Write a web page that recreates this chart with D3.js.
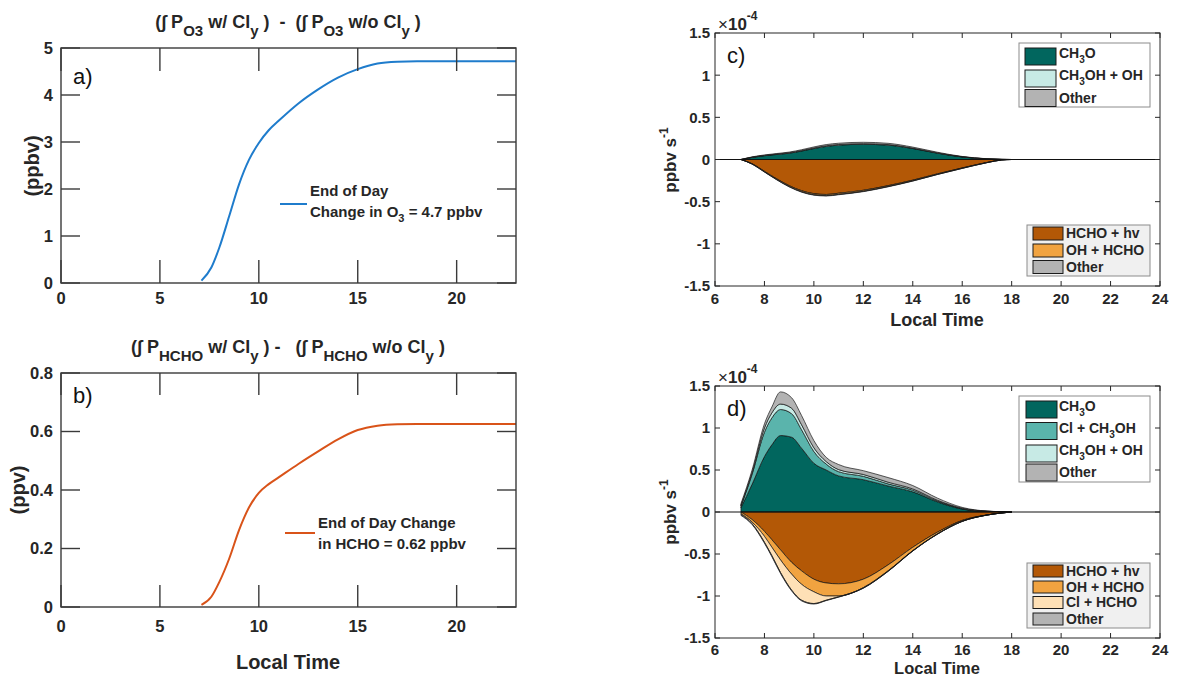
<!DOCTYPE html>
<html><head><meta charset="utf-8">
<script src="https://cdn.jsdelivr.net/npm/d3@7"></script>
<style>
body{margin:0;background:#fff;}
svg{display:block;}
text{white-space:pre;font-family:"Liberation Sans",Arial,Helvetica,sans-serif;}
</style></head><body>
<svg id="chart" width="1180" height="678"></svg>
<script>
// ---------------- DATA ----------------
const hoursAB = [7.1, 7.6, 8.0, 8.5, 9.0, 9.5, 10.0, 10.5, 11, 12, 13, 14, 15, 16, 17, 18, 20, 23];
const o3Change = [0.05, 0.33, 0.75, 1.42, 2.1, 2.62, 2.98, 3.25, 3.45, 3.82, 4.12, 4.37, 4.55, 4.67, 4.71, 4.72, 4.72, 4.72];
const hchoChange = [0.007, 0.035, 0.085, 0.165, 0.263, 0.34, 0.39, 0.42, 0.443, 0.489, 0.532, 0.573, 0.605, 0.62, 0.625, 0.626, 0.626, 0.626];
const xTicksAB = [0, 5, 10, 15, 20];
const yTicksA = [0, 1, 2, 3, 4, 5];
const yTicksB = [0, 0.2, 0.4, 0.6, 0.8];

// panel c (units of 1e-4 ppbv s-1)
const hoursC = [7.05, 7.5, 8, 8.5, 9, 9.5, 10, 10.5, 11, 12, 13, 14, 15, 16, 17, 17.6, 18];
const cCH3O     = [0, 0.025, 0.045, 0.06, 0.075, 0.10, 0.13, 0.155, 0.17, 0.18, 0.17, 0.13, 0.075, 0.03, 0.007, 0.001, 0];
const cCH3OH_OH = [0, 0.002, 0.003, 0.004, 0.005, 0.006, 0.007, 0.008, 0.008, 0.008, 0.007, 0.005, 0.003, 0.002, 0.001, 0.0005, 0];
const cOtherPos = [0, 0.004, 0.006, 0.007, 0.008, 0.01, 0.012, 0.014, 0.015, 0.016, 0.015, 0.012, 0.008, 0.004, 0.001, 0.0005, 0];
const cHCHO_hv  = [0, -0.05, -0.14, -0.23, -0.31, -0.37, -0.405, -0.415, -0.40, -0.365, -0.31, -0.245, -0.17, -0.10, -0.035, -0.005, 0];
const cOH_HCHO  = [0, -0.003, -0.006, -0.008, -0.01, -0.012, -0.013, -0.013, -0.013, -0.012, -0.01, -0.008, -0.006, -0.004, -0.002, -0.0005, 0];
const cOtherNeg = [0, -0.002, -0.003, -0.004, -0.005, -0.005, -0.005, -0.005, -0.005, -0.004, -0.004, -0.003, -0.002, -0.002, -0.001, -0.0005, 0];

// panel d (units of 1e-4 ppbv s-1)
const hoursD = [7.05, 7.5, 8.0, 8.3, 8.65, 9.1, 9.5, 10.0, 10.5, 11.0, 12.0, 13.0, 14.0, 15.0, 16.0, 17.0, 18.0];
const dCH3O     = [0.05, 0.33, 0.66, 0.80, 0.91, 0.89, 0.76, 0.58, 0.50, 0.43, 0.385, 0.31, 0.24, 0.12, 0.035, 0.006, 0];
const dCl_CH3OH = [0.02, 0.12, 0.29, 0.32, 0.31, 0.28, 0.22, 0.14, 0.07, 0.05, 0.04, 0.025, 0.02, 0.01, 0.005, 0.002, 0];
const dCH3OH_OH = [0.01, 0.02, 0.05, 0.06, 0.065, 0.065, 0.06, 0.045, 0.03, 0.025, 0.022, 0.02, 0.015, 0.01, 0.005, 0.001, 0];
const dOtherPos = [0.02, 0.03, 0.05, 0.07, 0.145, 0.125, 0.11, 0.085, 0.05, 0.06, 0.045, 0.055, 0.04, 0.025, 0.01, 0.002, 0];
const dHCHO_hv  = [-0.001, -0.09, -0.23, -0.33, -0.45, -0.60, -0.70, -0.80, -0.845, -0.855, -0.80, -0.63, -0.42, -0.24, -0.10, -0.035, 0];
const dOH_HCHO  = [-0.02, -0.03, -0.06, -0.09, -0.12, -0.14, -0.16, -0.15, -0.155, -0.145, -0.10, -0.07, -0.04, -0.02, -0.01, -0.001, 0];
const dCl_HCHO  = [-0.01, -0.02, -0.07, -0.10, -0.15, -0.19, -0.19, -0.14, -0.05, -0.01, -0.005, -0.005, -0.003, -0.002, -0.001, -0.0005, 0];
const dOtherNeg = [-0.01, -0.01, -0.012, -0.012, -0.012, -0.01, -0.008, -0.006, -0.005, -0.004, -0.003, -0.003, -0.002, -0.002, -0.001, -0.0005, 0];

const xTicksCD = [6, 8, 10, 12, 14, 16, 18, 20, 22, 24];
const yTicksCD = [-1.5, -1, -0.5, 0, 0.5, 1, 1.5];

// ---------------- STYLE ----------------
const INK = '#262626';
const FONT = '"Liberation Sans",Arial,Helvetica,sans-serif';
const COL = {
  CH3O: '#01665e', Cl_CH3OH: '#5ab4ac', CH3OH_OH: '#c7eae5', Other: '#b3b3b3',
  HCHO_hv: '#b35806', OH_HCHO: '#f1a340', Cl_HCHO: '#fee0b6'
};

const svg = d3.select('#chart');
svg.append('rect').attr('width', 1180).attr('height', 678).attr('fill', '#fff');

function txt(x, y, size, bold) {
  return svg.append('text').attr('x', x).attr('y', y).attr('font-family', FONT)
    .attr('font-size', size).attr('font-weight', bold ? 'bold' : 'normal').attr('fill', INK);
}

function rich(textSel, parts, subSize, subDy, supDy) {
  let cur = 0;
  parts.forEach(p => {
    let t, off = 0, fs = null;
    if (typeof p === 'string') t = p;
    else if (p.sub !== undefined) { t = p.sub; off = subDy; fs = subSize; }
    else { t = p.sup; off = -supDy; fs = subSize; }
    const ts = textSel.append('tspan').text(t);
    if (off !== cur) ts.attr('dy', off - cur);
    if (fs) ts.attr('font-size', fs);
    cur = off;
  });
  return textSel;
}

function drawAxes(x, y, xt, yt, opt) {
  const [x0, x1] = x.range(), [y0, y1] = y.range();
  const g = svg.append('g');
  const tickLine = (data, a) => g.append('g').selectAll('line').data(data).join('line')
    .attr('x1', a.x1).attr('x2', a.x2).attr('y1', a.y1).attr('y2', a.y2)
    .attr('stroke', opt.color).attr('stroke-width', opt.sw);
  tickLine(xt, {x1: d => x(d), x2: d => x(d), y1: y0, y2: y0 - opt.xLen});
  tickLine(xt, {x1: d => x(d), x2: d => x(d), y1: y1, y2: y1 + opt.xLen});
  tickLine(yt, {x1: x0, x2: x0 + opt.yLen, y1: d => y(d), y2: d => y(d)});
  tickLine(yt, {x1: x1, x2: x1 - opt.yLen, y1: d => y(d), y2: d => y(d)});
  g.append('g').selectAll('text').data(xt).join('text')
    .attr('x', d => x(d)).attr('y', y0 + opt.xPad).attr('text-anchor', 'middle')
    .attr('font-family', FONT).attr('font-size', opt.fs).attr('font-weight', 'bold').attr('fill', INK)
    .text(d => String(d));
  g.append('g').selectAll('text').data(yt).join('text')
    .attr('x', x0 - opt.yPad).attr('y', d => y(d) + opt.fs * 0.36).attr('text-anchor', 'end')
    .attr('font-family', FONT).attr('font-size', opt.fs).attr('font-weight', 'bold').attr('fill', INK)
    .text(d => String(d));
  g.append('rect').attr('x', x0).attr('y', y1).attr('width', x1 - x0).attr('height', y0 - y1)
    .attr('fill', 'none').attr('stroke', opt.color).attr('stroke-width', opt.sw);
}

// ---------------- PANELS A, B ----------------
const xA = d3.scaleLinear().domain([0, 23]).range([61, 516]);
const yA = d3.scaleLinear().domain([0, 5]).range([283, 48]);
const xB = d3.scaleLinear().domain([0, 23]).range([61, 516]);
const yB = d3.scaleLinear().domain([0, 0.8]).range([607, 373]);

svg.append('path').datum(d3.zip(hoursAB, o3Change))
  .attr('fill', 'none').attr('stroke', '#1f7ccc').attr('stroke-width', 2)
  .attr('d', d3.line().x(d => xA(d[0])).y(d => yA(d[1])).curve(d3.curveMonotoneX));
drawAxes(xA, yA, xTicksAB, yTicksA, {xLen: 23, yLen: 19, xPad: 21, yPad: 8, fs: 16.5, color: '#3a3a3a', sw: 1.4});

svg.append('path').datum(d3.zip(hoursAB, hchoChange))
  .attr('fill', 'none').attr('stroke', '#D95319').attr('stroke-width', 2)
  .attr('d', d3.line().x(d => xB(d[0])).y(d => yB(d[1])).curve(d3.curveMonotoneX));
drawAxes(xB, yB, xTicksAB, yTicksB, {xLen: 22, yLen: 19, xPad: 25, yPad: 8, fs: 16.5, color: '#3a3a3a', sw: 1.4});

// titles a, b
rich(txt(288, 28, 18, true).attr('text-anchor', 'middle'),
  ['(\u222B P', {sub: 'O3'}, ' w/ Cl', {sub: 'y'}, ' )  -  (\u222B P', {sub: 'O3'}, ' w/o Cl', {sub: 'y'}, ' )'], 15, 8, 0);
rich(txt(288, 353, 18, true).attr('text-anchor', 'middle'),
  ['(\u222B P', {sub: 'HCHO'}, ' w/ Cl', {sub: 'y'}, ' ) -   (\u222B P', {sub: 'HCHO'}, ' w/o Cl', {sub: 'y'}, ' )'], 15, 8, 0);

// y labels a, b and x label b
txt(0, 0, 20, true).attr('transform', 'translate(39,166) rotate(-90)').attr('text-anchor', 'middle').text('(ppbv)');
txt(0, 0, 20, true).attr('transform', 'translate(25,490) rotate(-90)').attr('text-anchor', 'middle').text('(ppv)');
txt(288, 669, 20, true).attr('text-anchor', 'middle').text('Local Time');

// panel letters
[['a)', 73, 84], ['b)', 73, 403], ['c)', 727, 63], ['d)', 727, 416]].forEach(([t, x, y]) =>
  txt(x, y, 22, false).attr('fill', '#111').text(t));

// legends a, b
svg.append('line').attr('x1', 280).attr('x2', 307).attr('y1', 204).attr('y2', 204)
  .attr('stroke', '#1f7ccc').attr('stroke-width', 2);
txt(310, 196, 15, true).text('End of Day');
rich(txt(310, 217, 15, true), ['Change in O', {sub: '3'}, ' = 4.7 ppbv'], 11, 5, 0);
svg.append('line').attr('x1', 285).attr('x2', 315).attr('y1', 533).attr('y2', 533)
  .attr('stroke', '#D95319').attr('stroke-width', 2);
txt(318, 528, 15, true).text('End of Day Change');
txt(318, 549, 15, true).text('in HCHO = 0.62 ppbv');

// ---------------- PANELS C, D ----------------
function stackPanel(x, y, hours, series, keys) {
  const rows = hours.map((h, i) => {
    const r = {h};
    keys.forEach(k => r[k] = series[k][i]);
    return r;
  });
  const st = d3.stack().keys(keys).offset(d3.stackOffsetDiverging)(rows);
  const area = d3.area().x(d => x(d.data.h)).y0(d => y(d[0])).y1(d => y(d[1])).curve(d3.curveMonotoneX);
  svg.append('g').selectAll('path').data(st).join('path')
    .attr('d', area)
    .attr('fill', d => series.colors[d.key])
    .attr('stroke', '#111').attr('stroke-opacity', 0.85).attr('stroke-width', 0.8).attr('stroke-linejoin', 'round');
  svg.append('line').attr('x1', x.range()[0]).attr('x2', x.range()[1]).attr('y1', y(0)).attr('y2', y(0))
    .attr('stroke', '#111').attr('stroke-width', 1);
}

const xC = d3.scaleLinear().domain([6, 24]).range([715, 1160]);
const yC = d3.scaleLinear().domain([-1.5, 1.5]).range([286, 33]);
const xD = d3.scaleLinear().domain([6, 24]).range([715, 1160]);
const yD = d3.scaleLinear().domain([-1.5, 1.5]).range([638, 386]);

stackPanel(xC, yC, hoursC, {
  CH3O: cCH3O, CH3OH_OH: cCH3OH_OH, OtherP: cOtherPos,
  HCHO_hv: cHCHO_hv, OH_HCHO: cOH_HCHO, OtherN: cOtherNeg,
  colors: {CH3O: COL.CH3O, CH3OH_OH: COL.CH3OH_OH, OtherP: COL.Other, HCHO_hv: COL.HCHO_hv, OH_HCHO: COL.OH_HCHO, OtherN: COL.Other}
}, ['CH3O', 'CH3OH_OH', 'OtherP', 'HCHO_hv', 'OH_HCHO', 'OtherN']);

stackPanel(xD, yD, hoursD, {
  CH3O: dCH3O, Cl_CH3OH: dCl_CH3OH, CH3OH_OH: dCH3OH_OH, OtherP: dOtherPos,
  HCHO_hv: dHCHO_hv, OH_HCHO: dOH_HCHO, Cl_HCHO: dCl_HCHO, OtherN: dOtherNeg,
  colors: {CH3O: COL.CH3O, Cl_CH3OH: COL.Cl_CH3OH, CH3OH_OH: COL.CH3OH_OH, OtherP: COL.Other,
           HCHO_hv: COL.HCHO_hv, OH_HCHO: COL.OH_HCHO, Cl_HCHO: COL.Cl_HCHO, OtherN: COL.Other}
}, ['CH3O', 'Cl_CH3OH', 'CH3OH_OH', 'OtherP', 'HCHO_hv', 'OH_HCHO', 'Cl_HCHO', 'OtherN']);

drawAxes(xC, yC, xTicksCD, yTicksCD, {xLen: 5, yLen: 5, xPad: 18, yPad: 5, fs: 15, color: INK, sw: 1});
drawAxes(xD, yD, xTicksCD, yTicksCD, {xLen: 5, yLen: 5, xPad: 17, yPad: 5, fs: 15, color: INK, sw: 1});

// exponent labels
[[718, 30], [718, 383]].forEach(([x, y]) => {
  const t = txt(x, y, 17, false);
  t.append('tspan').text('\u00D7');
  t.append('tspan').attr('font-weight', 'bold').text('10');
  t.append('tspan').attr('dy', -10).attr('font-size', 12).attr('font-weight', 'bold').text('-4');
});

// y labels c, d
[[676, 160], [676, 512]].forEach(([x, y]) => {
  rich(txt(0, 0, 17, true).attr('transform', `translate(${x},${y}) rotate(-90)`).attr('text-anchor', 'middle'),
    ['ppbv s', {sup: '-1'}], 12, 0, 8);
});
// x labels c, d
txt(937, 326, 18, true).attr('text-anchor', 'middle').text('Local Time');
txt(937, 674, 16.5, true).attr('text-anchor', 'middle').text('Local Time');

// legends c, d
function legend(box, bg, sw, textX, items) {
  svg.append('rect').attr('x', box[0]).attr('y', box[1]).attr('width', box[2] - box[0]).attr('height', box[3] - box[1])
    .attr('fill', bg).attr('stroke', '#8c8c8c').attr('stroke-width', 1);
  items.forEach(it => {
    svg.append('rect').attr('x', sw[0]).attr('y', it.cy - sw[2] / 2).attr('width', sw[1]).attr('height', sw[2])
      .attr('fill', it.fill).attr('stroke', '#1a1a1a').attr('stroke-width', 1);
    const hasSub = it.parts.some(p => typeof p !== 'string');
    rich(txt(textX, it.cy + (hasSub ? 1.5 : 4.5), 14, true), it.parts, 10, 5, 0);
  });
}
legend([1019, 43, 1150, 107], '#fff', [1025, 31, 17], 1059, [
  {cy: 56.5, fill: COL.CH3O, parts: ['CH', {sub: '3'}, 'O']},
  {cy: 78.5, fill: COL.CH3OH_OH, parts: ['CH', {sub: '3'}, 'OH + OH']},
  {cy: 98, fill: COL.Other, parts: ['Other']}
]);
legend([1027, 225, 1150, 276], '#f0f0f0', [1033, 30, 13], 1066, [
  {cy: 233.5, fill: COL.HCHO_hv, parts: ['HCHO + hv']},
  {cy: 250.5, fill: COL.OH_HCHO, parts: ['OH + HCHO']},
  {cy: 267, fill: COL.Other, parts: ['Other']}
]);
legend([1019, 396, 1150, 482], '#fff', [1026, 31, 17], 1059, [
  {cy: 409.5, fill: COL.CH3O, parts: ['CH', {sub: '3'}, 'O']},
  {cy: 431, fill: COL.Cl_CH3OH, parts: ['Cl + CH', {sub: '3'}, 'OH']},
  {cy: 453.5, fill: COL.CH3OH_OH, parts: ['CH', {sub: '3'}, 'OH + OH']},
  {cy: 472.5, fill: COL.Other, parts: ['Other']}
]);
legend([1027, 563, 1150, 628], '#f0f0f0', [1033, 30, 12], 1066, [
  {cy: 571, fill: COL.HCHO_hv, parts: ['HCHO + hv']},
  {cy: 587, fill: COL.OH_HCHO, parts: ['OH + HCHO']},
  {cy: 602.5, fill: COL.Cl_HCHO, parts: ['Cl + HCHO']},
  {cy: 619, fill: COL.Other, parts: ['Other']}
]);
</script>
</body></html>
